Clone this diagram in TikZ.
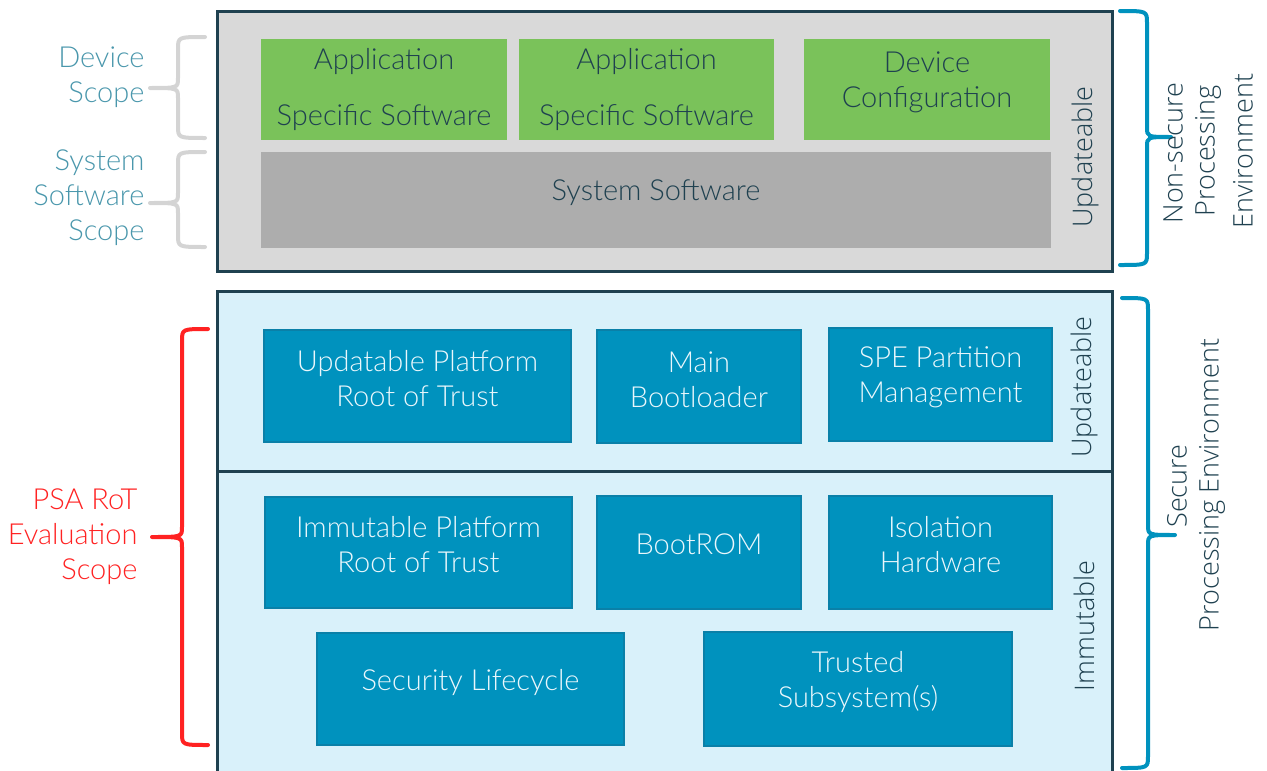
\documentclass[tikz,border=0pt]{standalone}
\usepackage{fontspec}
\IfFontExistsTF{Lato Light}{\setmainfont{Lato Light}}{\setmainfont{Lato}}
\IfFontExistsTF{Open Sans Light}{\newfontfamily\osans{Open Sans Light}}{\newfontfamily\osans{Open Sans}}
\definecolor{darkc}{HTML}{1F4150}
\definecolor{greenc}{HTML}{7AC25A}
\definecolor{grayc}{HTML}{ADADAD}
\definecolor{panelc}{HTML}{D9D9D9}
\definecolor{lightblue}{HTML}{D9F1FA}
\definecolor{bluec}{HTML}{0092BE}
\definecolor{blueedge}{HTML}{0A80A8}
\definecolor{scopec}{HTML}{4A97AC}
\definecolor{bracegray}{HTML}{D4D4D4}
\definecolor{redc}{HTML}{FF2222}
\definecolor{boxtext}{HTML}{EAF7FC}
% brace: colour, x of ends, x of spine, x of tip, y top, y bottom, y tip
\newcommand{\scopebrace}[7]{%
  \draw[bracestyle,draw=#1] (#2,#5) .. controls (#3,#5) .. (#3,{#5+12}) -- (#3,{#7-10})
    .. controls (#3,#7) .. (#4,#7) .. controls (#3,#7) .. (#3,{#7+10})
    -- (#3,{#6-12}) .. controls (#3,#6) .. (#2,#6);}
\begin{document}
\begin{tikzpicture}[x=1pt,y=-1pt,
  panel/.style={draw=darkc,line width=3pt},
  greenbox/.style={fill=greenc,inner sep=0pt},
  graybox/.style={fill=grayc,inner sep=0pt},
  bluebox/.style={fill=bluec,draw=blueedge,line width=1.2pt,inner sep=0pt},
  boxlabel/.style={align=center,text=boxtext,font=\fontsize{29}{35}\selectfont},
  darklabel/.style={align=center,text=darkc,font=\fontsize{29}{35}\selectfont},
  sidelabel/.style={rotate=90,text=darkc,font=\osans\fontsize{27}{34}\selectfont},
  scopelabel/.style={align=right,anchor=east,text=scopec,font=\fontsize{29}{35}\selectfont},
  bracestyle/.style={line width=4pt,line cap=round,line join=round},
]
\useasboundingbox (0,0) rectangle (1267,771);

% ---------- top panel ----------
\node[panel,fill=panelc,minimum width=895pt,minimum height=260pt,inner sep=0pt] (top) at (664.5,141) {};
\node[greenbox,minimum width=246pt,minimum height=101pt] (g1) at (384,89.5) {};
\node[greenbox,minimum width=255pt,minimum height=101pt] (g2) at (646.5,89.5) {};
\node[greenbox,minimum width=246pt,minimum height=101pt] (g3) at (927,89.5) {};
\node[graybox,minimum width=790pt,minimum height=96pt] (ss) at (656,200) {};
\node[darklabel,font=\fontsize{29}{56}\selectfont] (g1t) at ([yshift=-0.5pt]g1.center) {Application\\Specific Software};
\node[darklabel,font=\fontsize{29}{56}\selectfont] (g2t) at ([yshift=-0.5pt]g2.center) {Application\\Specific Software};
\node[darklabel] (g3t) at ([yshift=7pt]g3.center) {Device\\Configuration};
\node[darklabel] (sst) at ([yshift=7pt]ss.center) {System Software};
\node[sidelabel] (upd1) at (1085,157) {Updateable};

% ---------- bottom panel ----------
\fill[lightblue] (217,291) rectangle (1112,771);
\draw[panel] (217,775) -- (217,291) -- (1112,291) -- (1112,775);
\draw[panel] (217,471) -- (1112,471);

\node[bluebox,minimum width=307pt,minimum height=112pt] (u1) at (417.5,386) {};
\node[bluebox,minimum width=204pt,minimum height=113pt] (u2) at (699,386.5) {};
\node[bluebox,minimum width=223pt,minimum height=113pt] (u3) at (940.5,384.5) {};
\node[bluebox,minimum width=307pt,minimum height=111pt] (i1) at (418.5,552.5) {};
\node[bluebox,minimum width=204pt,minimum height=113pt] (i2) at (699,552.5) {};
\node[bluebox,minimum width=223pt,minimum height=113pt] (i3) at (940.5,552.5) {};
\node[bluebox,minimum width=307pt,minimum height=112pt] (s1) at (470.5,689) {};
\node[bluebox,minimum width=308pt,minimum height=114pt] (s2) at (858,689) {};

\node[boxlabel] (u1t) at ([yshift=7pt]u1.center) {Updatable Platform\\Root of Trust};
\node[boxlabel] (u2t) at ([yshift=7pt]u2.center) {Main\\Bootloader};
\node[boxlabel] (u3t) at ([yshift=7pt]u3.center) {SPE Partition\\Management};
\node[boxlabel] (i1t) at ([yshift=8pt]i1.center) {Immutable Platform\\Root of Trust};
\node[boxlabel] (i2t) at ([yshift=8pt]i2.center) {BootROM};
\node[boxlabel] (i3t) at ([yshift=7.5pt]i3.center) {Isolation\\Hardware};
\node[boxlabel] (s1t) at ([yshift=7pt]s1.center) {Security Lifecycle};
\node[boxlabel] (s2t) at ([yshift=7.5pt]s2.center) {Trusted\\Subsystem(s)};

\node[sidelabel] (upd2) at (1084,387) {Updateable};
\node[sidelabel] (imm) at (1084,626) {Immutable};

% ---------- left scopes ----------
\scopebrace{bracegray}{205}{178}{150}{37}{138}{88}
\scopebrace{bracegray}{205}{178}{150}{152}{247}{203}
\scopebrace{redc}{208}{182}{152}{329}{745}{537}

\node[scopelabel] (dev) at (148,77) {Device\\Scope};
\node[scopelabel] (sys) at (148,198) {System\\Software\\Scope};
\node[scopelabel,text=redc] (psa) at (141,536.5) {PSA RoT\\Evaluation\\Scope};

% ---------- right environments ----------
\scopebrace{bluec}{1120}{1147}{1171}{11}{265}{137}
\scopebrace{bluec}{1122}{1148}{1175}{298}{768}{535}

\node[sidelabel] (ns1) at (1173,153) {Non-secure};
\node[sidelabel] (ns2) at (1208,151) {Processing};
\node[sidelabel] (ns3) at (1243,151) {Environment};
\node[sidelabel] (se1) at (1177,486) {Secure};
\node[sidelabel] (se2) at (1212,485) {Processing Environment};
\end{tikzpicture}
\end{document}
